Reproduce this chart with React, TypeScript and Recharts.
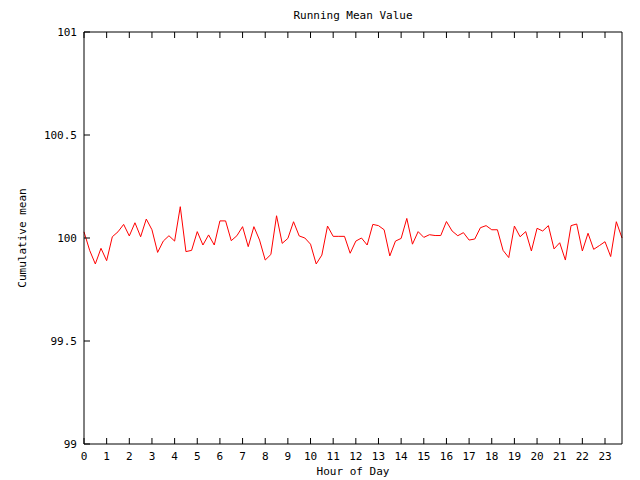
import React from 'react';
import { LineChart, Line, XAxis, YAxis } from 'recharts';

const TITLE = 'Running Mean Value';
const X_LABEL = 'Hour of Day';
const Y_LABEL = 'Cumulative mean';

// quarter-hour sample times (hours)
const STEP_HOURS = 0.25;
const HOUR_TICKS = [0, 1, 2, 3, 4, 5, 6, 7, 8, 9, 10, 11, 12, 13, 14, 15, 16, 17, 18, 19, 20, 21, 22, 23];
const Y_TICKS = [99, 99.5, 100, 100.5, 101];

const RUNNING_MEAN = [
  100.03, 99.94, 99.874, 99.95, 99.89, 100.006, 100.03, 100.066,
  100.01, 100.074, 100.006, 100.092, 100.04, 99.93, 99.985, 100.011,
  99.985, 100.152, 99.934, 99.94, 100.031, 99.966, 100.015, 99.966,
  100.083, 100.083, 99.987, 100.011, 100.055, 99.958, 100.055, 99.99,
  99.893, 99.92, 100.108, 99.974, 99.998, 100.079, 100.01, 100.0,
  99.97, 99.874, 99.917, 100.058, 100.008, 100.008, 100.008, 99.926,
  99.985, 100.0, 99.966, 100.066, 100.06, 100.04, 99.913, 99.985,
  99.998, 100.095, 99.97, 100.031, 100.003, 100.016, 100.012, 100.012,
  100.08, 100.034, 100.011, 100.026, 99.99, 99.995, 100.05, 100.06,
  100.04, 100.04, 99.94, 99.905, 100.058, 100.006, 100.031, 99.937,
  100.047, 100.034, 100.06, 99.947, 99.977, 99.893, 100.06, 100.068,
  99.937, 100.023, 99.945, 99.963, 99.982, 99.91, 100.079, 100.0,
];

const data = RUNNING_MEAN.map((v, i) => ({ hour: i * STEP_HOURS, mean: v }));
const X_DOMAIN: [number, number] = [0, (RUNNING_MEAN.length - 1) * STEP_HOURS];

const FONT = '"DejaVu Sans Mono", "Liberation Mono", monospace';
const TICK_LEN = 6;
const BOTTOM_MARGIN = 8;
const LEFT_MARGIN = 7;

const BottomTick = (props: any) => {
  const { x, y, payload } = props;
  const axisY = y - BOTTOM_MARGIN;
  return (
    <g>
      <line x1={x} y1={axisY} x2={x} y2={axisY - TICK_LEN} stroke="#000" />
      <text x={x} y={y} dy="0.71em" textAnchor="middle" fontSize={11} fontFamily={FONT} fill="#000">
        {String(payload.value)}
      </text>
    </g>
  );
};

const TopTick = (props: any) => {
  const { x, y } = props;
  return <line x1={x} y1={y} x2={x} y2={y + TICK_LEN} stroke="#000" />;
};

const LeftTick = (props: any) => {
  const { x, y, payload } = props;
  const axisX = x + LEFT_MARGIN;
  return (
    <g>
      <line x1={axisX} y1={y} x2={axisX + TICK_LEN} y2={y} stroke="#000" />
      <text x={x} y={y} dy="0.355em" textAnchor="end" fontSize={11} fontFamily={FONT} fill="#000">
        {String(payload.value)}
      </text>
    </g>
  );
};

const RightTick = (props: any) => {
  const { x, y } = props;
  return <line x1={x} y1={y} x2={x - TICK_LEN} y2={y} stroke="#000" />;
};

export default function App() {
  return (
    <div style={{ position: 'absolute', left: 0, top: 0, width: 640, height: 480, background: '#fff' }}>
      <LineChart width={640} height={480} data={data} margin={{ top: 31, right: 17, bottom: 0, left: 0 }}>
        <XAxis
          dataKey="hour"
          type="number"
          domain={X_DOMAIN}
          ticks={HOUR_TICKS}
          interval={0}
          height={36}
          tickSize={0}
          tickMargin={BOTTOM_MARGIN}
          tickLine={false}
          axisLine={{ stroke: '#000' }}
          tick={<BottomTick />}
          label={{ value: X_LABEL, position: 'insideBottom', offset: 5, style: { fontSize: 11, fontFamily: FONT, fill: '#000' } }}
        />
        <XAxis
          xAxisId="top"
          orientation="top"
          dataKey="hour"
          type="number"
          domain={X_DOMAIN}
          ticks={HOUR_TICKS}
          interval={0}
          height={1}
          tickSize={0}
          tickMargin={0}
          tickLine={false}
          axisLine={{ stroke: '#000' }}
          tick={<TopTick />}
          label={{ value: TITLE, position: 'top', offset: 12, style: { fontSize: 11, fontFamily: FONT, fill: '#000' } }}
        />
        <YAxis
          type="number"
          domain={[99, 101]}
          ticks={Y_TICKS}
          interval={0}
          width={84}
          tickSize={0}
          tickMargin={LEFT_MARGIN}
          tickLine={false}
          axisLine={{ stroke: '#000' }}
          tick={<LeftTick />}
          label={{ value: Y_LABEL, angle: -90, position: 'insideLeft', offset: 22, style: { textAnchor: 'middle', fontSize: 11, fontFamily: FONT, fill: '#000' } }}
        />
        <YAxis
          yAxisId="right"
          orientation="right"
          type="number"
          domain={[99, 101]}
          ticks={Y_TICKS}
          interval={0}
          width={1}
          tickSize={0}
          tickMargin={0}
          tickLine={false}
          axisLine={{ stroke: '#000' }}
          tick={<RightTick />}
        />
        <Line
          type="linear"
          dataKey="mean"
          stroke="#ff0000"
          strokeWidth={1}
          dot={false}
          isAnimationActive={false}
        />
      </LineChart>
    </div>
  );
}
